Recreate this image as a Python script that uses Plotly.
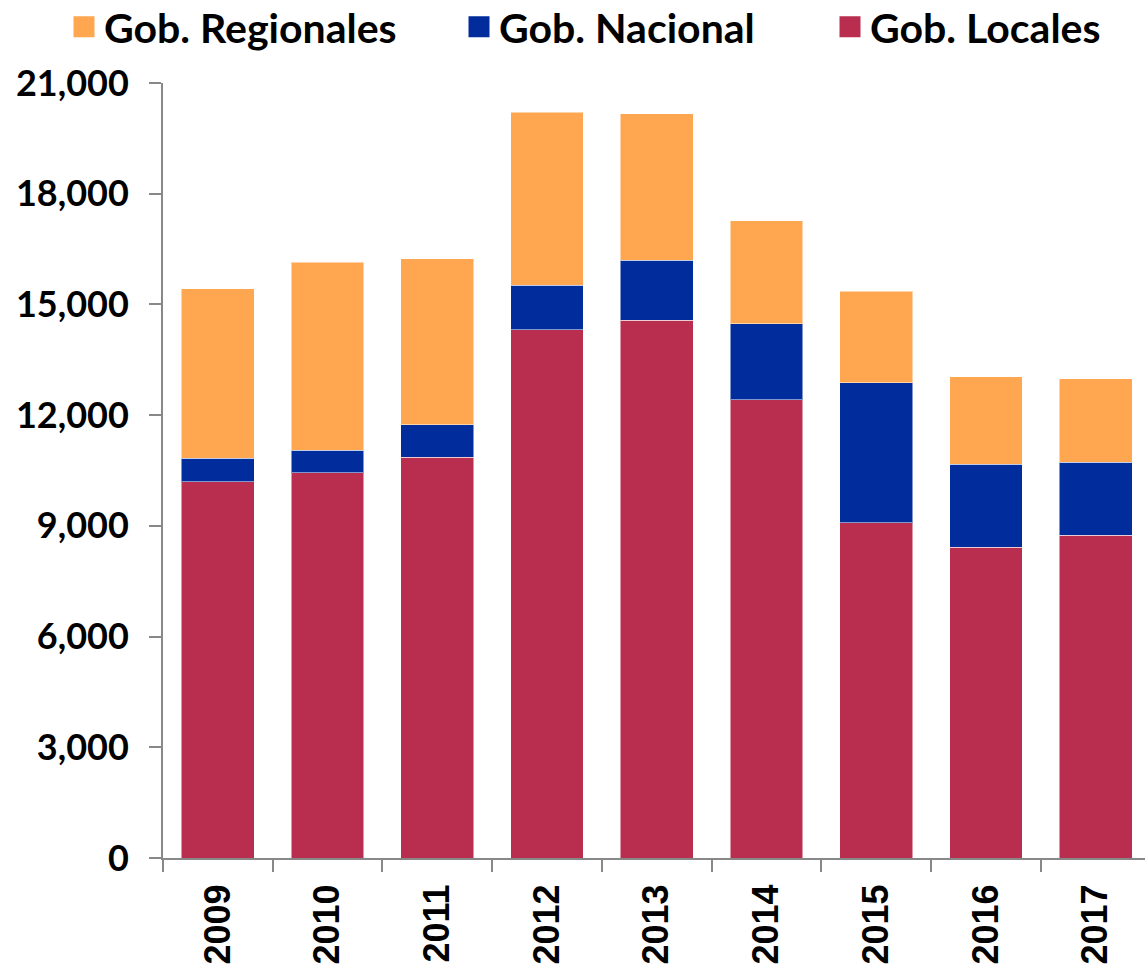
import plotly.graph_objects as go

years = ["2009", "2010", "2011", "2012", "2013", "2014", "2015", "2016", "2017"]
locales = [10199, 10443, 10857, 14317, 14570, 12421, 9087, 8419, 8744]
nacional = [632, 604, 886, 1201, 1626, 2049, 3794, 2249, 1986]
regionales = [4598, 5094, 4499, 4688, 3974, 2791, 2483, 2366, 2260]

y_ticks = [0, 3000, 6000, 9000, 12000, 15000, 18000, 21000]
y_tick_text = ["0", "3,000", "6,000", "9,000", "12,000", "15,000", "18,000", "21,000"]

names = ["Gob. Locales", "Gob. Nacional", "Gob. Regionales"]
colors = ["#B92E4F", "#002D9B", "#FFA650"]
series = [locales, nacional, regionales]
legend_ids = ["legend3", "legend2", "legend"]

W, H = 1145, 967
legend_x = [830, 459, 64]

fig = go.Figure()
for name, col, vals in zip(names, colors, series):
    fig.add_trace(go.Bar(x=years, y=vals, name=name, showlegend=False,
                         marker=dict(color=col, line=dict(color="rgba(255,255,255,0.5)", width=1))))
for name, col, lid in zip(names, colors, legend_ids):
    fig.add_trace(go.Scatter(x=[None], y=[None], name=name, mode="markers", legend=lid,
                             marker=dict(symbol="square", size=16, color=col,
                                         line=dict(color=col, width=5))))

legend_font = dict(family="Lato", size=41, color="black", weight="bold")
leg_common = dict(orientation="h", xref="container", yref="container",
                  yanchor="middle", xanchor="left", y=1 - 27 / H,
                  font=legend_font, itemsizing="trace", bgcolor="rgba(0,0,0,0)")
layout_legends = {}
for lid, lx in zip(legend_ids, legend_x):
    layout_legends[lid] = dict(leg_common, x=lx / W)

fig.update_layout(
    width=W, height=H,
    barmode="stack", bargap=0.337,
    plot_bgcolor="white", paper_bgcolor="white",
    margin=dict(l=163, r=0, t=83, b=109),
    showlegend=True,
    font=dict(family="Lato", color="black"),
    **layout_legends,
)
fig.update_xaxes(type="category", range=[-0.5, 8.45], automargin=False,
                 showline=True, linecolor="#888888", linewidth=2,
                 ticks="outside", tickson="boundaries", ticklen=12, tickcolor="#888888", tickwidth=2,
                 tickangle=-90, ticklabelstandoff=10,
                 tickfont=dict(family="Liberation Sans", size=36, color="black", weight="bold"),
                 showgrid=False)
fig.update_yaxes(range=[0, 21000], tickvals=y_ticks, ticktext=y_tick_text, automargin=False,
                 showline=True, linecolor="#888888", linewidth=2,
                 ticks="outside", ticklen=12, tickcolor="#888888", tickwidth=2,
                 ticklabelstandoff=13,
                 tickfont=dict(family="Lato", size=36, color="black", weight="bold"),
                 showgrid=False, zeroline=False)

fig.write_html("out.html", config={"displayModeBar": False},
               post_script="document.body.style.margin='0';")
